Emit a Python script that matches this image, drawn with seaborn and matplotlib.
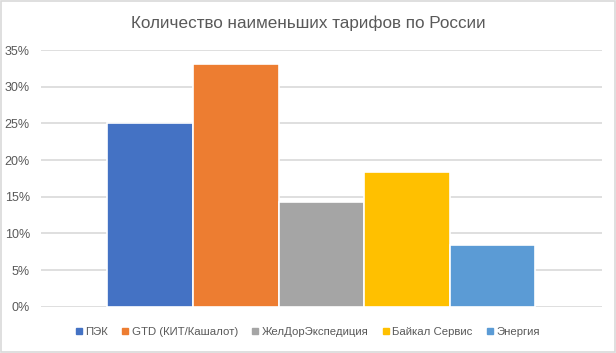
import pandas as pd
import seaborn as sns
import matplotlib.pyplot as plt
from matplotlib.lines import Line2D
from matplotlib.ticker import PercentFormatter

# data
carriers = ["ПЭК", "GTD (КИТ/Кашалот)", "ЖелДорЭкспедиция", "Байкал Сервис", "Энергия"]
shares = [0.2505, 0.331, 0.1428, 0.1837, 0.0845]
colors = ["#4472C4", "#ED7D31", "#A5A5A5", "#FFC000", "#5B9BD5"]
title = "Количество наименьших тарифов по России"

df = pd.DataFrame({"group": ["all"] * len(carriers), "carrier": carriers, "share": shares})

sns.set_style("white")
plt.rcParams["font.family"] = ["Liberation Sans", "DejaVu Sans"]

fig = plt.figure(figsize=(6.16, 3.53), dpi=100)
ax = fig.add_axes([0.0666, 0.131, 0.9104, 0.727])

sns.barplot(data=df, x="group", y="share", hue="carrier", palette=colors,
            hue_order=carriers, width=0.763, saturation=1, edgecolor="white",
            linewidth=1.2, legend=False, ax=ax, zorder=3)

ax.set_xlim(-0.5, 0.5)
ax.set_ylim(0, 0.35)
ax.set_yticks([i * 0.05 for i in range(8)])
ax.yaxis.set_major_formatter(PercentFormatter(1.0, decimals=0))
ax.grid(axis="y", color="#D9D9D9", linewidth=1.2, zorder=0)
ax.set_axisbelow(True)
for s in ax.spines.values():
    s.set_visible(False)
ax.set_xticks([])
ax.set_xlabel("")
ax.set_ylabel("")
ax.tick_params(axis="y", length=0, labelsize=9, labelcolor="#595959", pad=8)

fig.suptitle(title, y=0.955, fontsize=12.3, color="#595959")

handles = [Line2D([], [], marker="s", linestyle="none", markersize=4,
                  markerfacecolor=c, markeredgecolor=c) for c in colors]
fig.legend(handles, carriers, loc="center", bbox_to_anchor=(0.5, 0.06), ncol=5,
           frameon=False, fontsize=8.2, labelcolor="#595959", handlelength=0.5,
           handletextpad=0.3, columnspacing=1.3)

# light chart border like the Excel frame
fig.patches.append(plt.Rectangle((0.001, 0.002), 0.997, 0.995, transform=fig.transFigure,
                                 fill=False, edgecolor="#D9D9D9", linewidth=1.2))

fig.savefig("out.png", dpi=100, facecolor="white")
